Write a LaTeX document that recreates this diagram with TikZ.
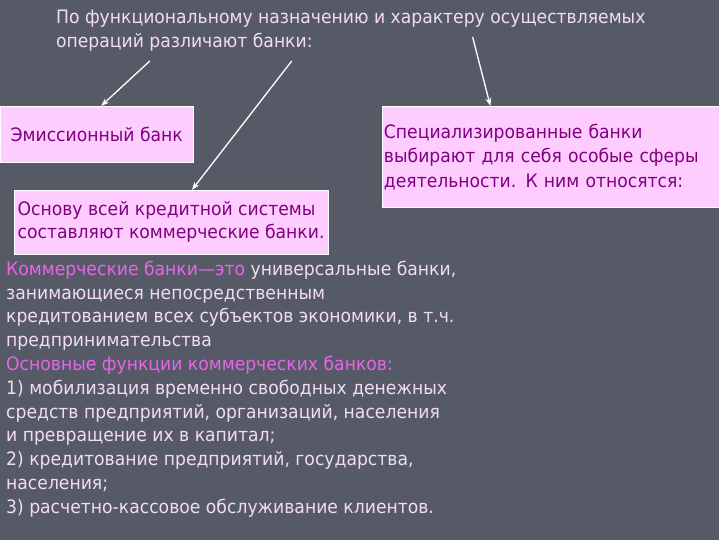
\documentclass[tikz,border=0pt]{standalone}
\usepackage{fontspec}
\setmainfont{DejaVu Sans}[FakeStretch=0.93]
\usepackage{xcolor}
\usetikzlibrary{arrows.meta}
\definecolor{slide}{HTML}{565A66}
\definecolor{boxfill}{HTML}{FFCCFF}
\definecolor{boxtext}{HTML}{800080}
\definecolor{pale}{HTML}{F2DCF2}
\definecolor{accent}{HTML}{E864E8}

\begin{document}
\begin{tikzpicture}[x=1bp,y=-1bp,
		every node/.style={font=\fontsize{18.5bp}{23.8bp}\selectfont},
		box/.style={draw=white,line width=0.6bp,fill=boxfill,text=boxtext,
			anchor=north west,align=left,inner ysep=0pt},
		plain/.style={anchor=north west,align=left,inner sep=0pt,text=pale},
		pointer/.style={draw=white,line width=1.3bp,-{Stealth[length=8bp,width=6bp]}}]
		% slide
		\fill[slide] (0,0) rectangle (720,540);
		
		\node[plain] (title) at (56,10) {По функциональному назначению и характеру осуществляемых\\
			операций различают банки:};
		
		% boxes
		\node[box,minimum width=193bp,minimum height=56bp] (emis) at (0,106) {Эмиссионный банк};
		\node[box,text width=334bp,inner xsep=2bp,minimum height=101bp,
			font=\fontsize{18.5bp}{24.5bp}\selectfont] (spec) at (382,106)
			{Специализированные банки\\ выбирают для себя особые сферы\\ деятельности. К ним относятся:};
		\node[box,minimum width=312bp,minimum height=64bp,
			font=\fontsize{18.5bp}{22.5bp}\selectfont] (comm) at (14,190)
			{Основу всей кредитной системы\\ составляют коммерческие банки.};
		
		% arrows from the title
		\coordinate (s1) at (150,61);
		\coordinate (s2) at (292,61);
		\coordinate (s3) at (473,37);
		\draw[pointer] (s1) -- (emis.81);
		\draw[pointer] (s2) -- (comm.57);
		\draw[pointer] (s3) -- (spec.140);
		
		\node[plain] (text) at (6,261) {{\color{accent}Коммерческие банки—это} универсальные банки,\\
			занимающиеся непосредственным\\
			кредитованием всех субъектов экономики, в т.ч.\\
			предпринимательства\\
			{\color{accent}Основные функции коммерческих банков:}\\
			1) мобилизация временно свободных денежных\\
			средств предприятий, организаций, населения\\
			и превращение их в капитал;\\
			2) кредитование предприятий, государства,\\
			населения;\\
			3) расчетно-кассовое обслуживание клиентов.};
	\end{tikzpicture}
\end{document}
